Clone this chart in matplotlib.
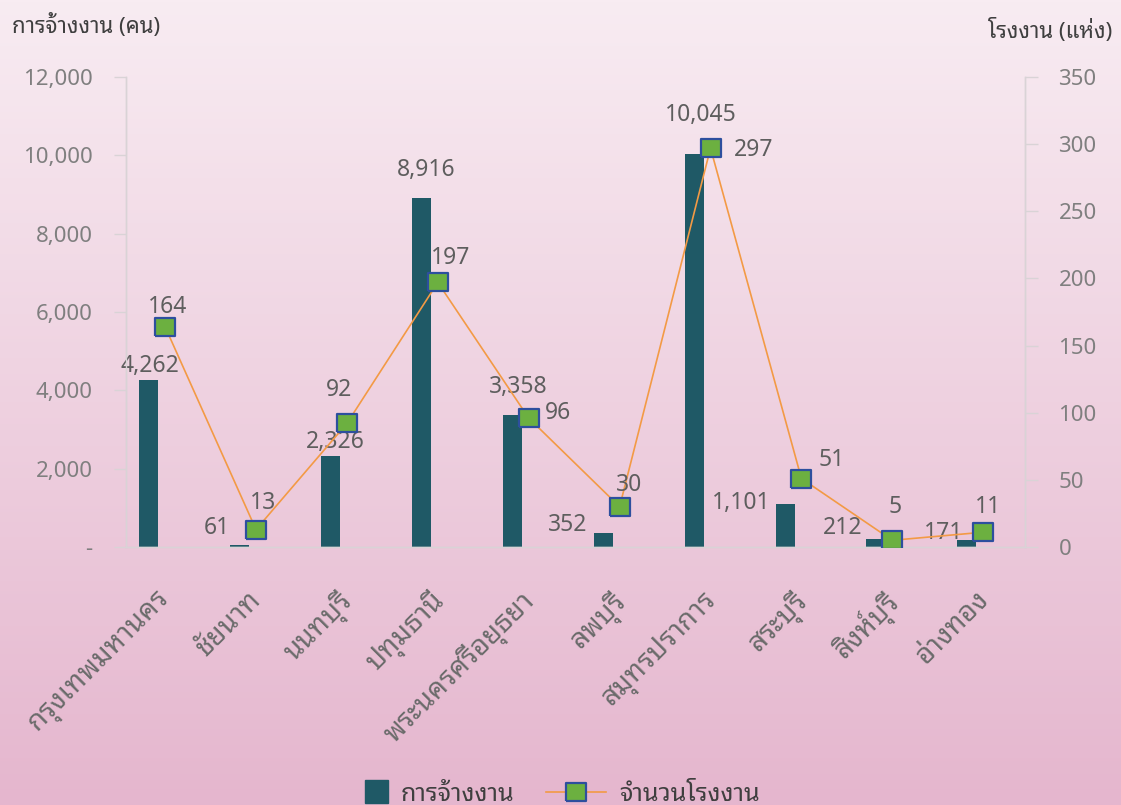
import numpy as np
import matplotlib
matplotlib.use("Agg")
import matplotlib.pyplot as plt
from matplotlib.lines import Line2D
from matplotlib.patches import Rectangle
from matplotlib.legend_handler import HandlerPatch
from matplotlib.ticker import FuncFormatter
from matplotlib.transforms import ScaledTranslation

plt.rcParams["font.family"] = ["Noto Sans Thai Looped", "DejaVu Sans"]

# data
provinces = ["กรุงเทพมหานคร", "ชัยนาท", "นนทบุรี", "ปทุมธานี", "พระนครศรีอยุธยา",
             "ลพบุรี", "สมุทรปราการ", "สระบุรี", "สิงห์บุรี", "อ่างทอง"]
employment = [4262, 61, 2326, 8916, 3358, 352, 10045, 1101, 212, 171]
factories = [164, 13, 92, 197, 96, 30, 297, 51, 5, 11]

# label offsets in pixels (dx, dy) as placed in the original chart
emp_offsets = [(1, 14), (-23, 17), (5, 14), (5, 28), (6, 28), (-36, 8), (7, 39), (-44, 1), (-33, 11), (-23, 7)]
fac_offsets = [(3, 20), (7, 27), (-8, 33), (13, 24), (29, 5), (9, 22), (43, -2), (30, 19), (3, 33), (5, 25)]

bar_color = "#1f5966"
line_color = "#f39a45"
mk_face = "#6cb040"
mk_edge = "#2d4f9e"
tick_gray = "#7f7f7f"
label_gray = "#5e5e5e"
title_gray = "#3f3f3f"
spine_gray = "#d9d3d6"

fig = plt.figure(figsize=(11.21, 8.05), dpi=100)

# pink gradient background
bg = fig.add_axes([0, 0, 1, 1])
top = np.array([248, 236, 242]) / 255
bottom = np.array([229, 182, 206]) / 255
t = np.linspace(0, 1, 256)[:, None]
grad = top + (bottom - top) * t
bg.imshow(grad[:, None, :], aspect="auto", extent=[0, 1, 0, 1])
bg.set_axis_off()

ax = fig.add_axes([0.1124, 0.3205, 0.802, 0.5839])
ax.set_facecolor("none")
ax2 = ax.twinx()

x = np.arange(len(provinces))
ax.bar(x - 0.18, employment, width=0.21, color=bar_color, zorder=2)

rect = [(-1, -0.86), (1, -0.86), (1, 0.86), (-1, 0.86), (-1, -0.86)]
ax2.plot(x, factories, color=line_color, lw=1.2, marker=rect, ms=14.5,
         mfc=mk_face, mec=mk_edge, mew=1.6, zorder=3)

ax.set_xlim(-0.43, 9.46)
ax.set_ylim(0, 12000)
ax2.set_ylim(0, 350)
ax.set_yticks(np.arange(0, 12001, 2000))
ax2.set_yticks(np.arange(0, 351, 50))
ax.yaxis.set_major_formatter(FuncFormatter(lambda v, p: "-" if v == 0 else f"{v:,.0f}"))

for a in (ax, ax2):
    for s in a.spines.values():
        s.set_color(spine_gray)
        s.set_linewidth(1.0)
    a.spines["top"].set_visible(False)
    a.tick_params(axis="y", colors=spine_gray, labelcolor=tick_gray, labelsize=16,
                  length=9, width=1.0, pad=15)

ax.set_xticks(x)
ax.set_xticklabels(provinces, rotation=45, ha="right", va="top", rotation_mode="anchor",
                   fontsize=20, color="#6b6b6b")
ax.tick_params(axis="x", length=0, pad=28)
shift = ScaledTranslation(-9 / 100, 0, fig.dpi_scale_trans)
for lbl in ax.get_xticklabels():
    lbl.set_transform(lbl.get_transform() + shift)

for i, v in enumerate(employment):
    ax.annotate(f"{v:,}", (x[i] - 0.18, v), xytext=emp_offsets[i], textcoords="offset pixels",
                ha="center", va="center", fontsize=16.5, color=label_gray, zorder=4)
for i, v in enumerate(factories):
    ax2.annotate(f"{v:,}", (x[i], v), xytext=fac_offsets[i], textcoords="offset pixels",
                 ha="center", va="center", fontsize=16.5, color=label_gray, zorder=4)

fig.text(0.011, 0.968, "การจ้างงาน (คน)", fontsize=16, color=title_gray,
         fontweight="bold", ha="left", va="center")
fig.text(0.992, 0.962, "โรงงาน (แห่ง)", fontsize=16, color=title_gray,
         fontweight="bold", ha="right", va="center")


def square_right(legend, orig_handle, xdescent, ydescent, width, height, fontsize):
    s = 23 * 72 / 100
    return Rectangle((-xdescent + width - s, -ydescent + (height - s) / 2), s, s)


bar_handle = Rectangle((0, 0), 1, 1, color=bar_color)
line_handle = Line2D([], [], color=line_color, lw=1.2, marker=rect, ms=14.5,
                     mfc=mk_face, mec=mk_edge, mew=1.6)
fig.legend([bar_handle, line_handle], ["การจ้างงาน", "จำนวนโรงงาน"], loc="lower center",
           bbox_to_anchor=(0.485, -0.03), ncol=2, frameon=False, fontsize=18,
           labelcolor=title_gray, handlelength=2.4, handletextpad=0.5, columnspacing=1.3,
           handler_map={Rectangle: HandlerPatch(patch_func=square_right)})

fig.savefig("out.png", dpi=100)
